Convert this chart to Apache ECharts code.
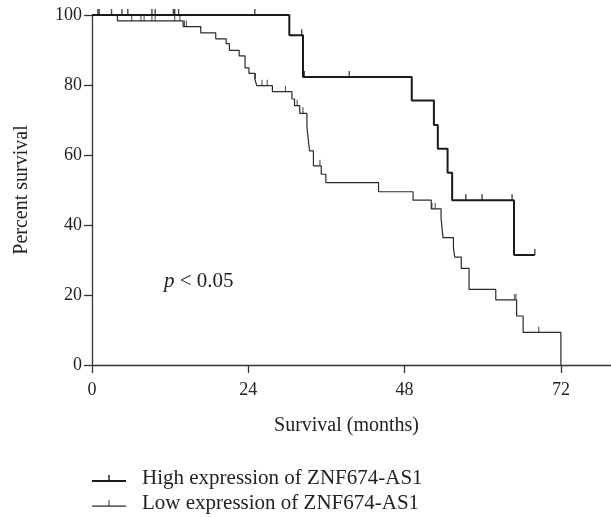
<!DOCTYPE html>
<html>
<head>
<meta charset="utf-8">
<script src="https://cdn.jsdelivr.net/npm/echarts@6/dist/echarts.min.js"></script>
<style>
  html, body { margin: 0; padding: 0; background: #fff; }
  #main { width: 611px; height: 517px; }
</style>
</head>
<body>
<div id="main"></div>
<script>
// Kaplan-Meier steps (months, percent)
var highTime = [0, 30.3, 32.4, 49.1, 52.5, 53.1, 54.6, 55.3, 64.8, 68.0];
var highSurv = [100, 94.2, 82.3, 75.6, 68.6, 61.8, 54.9, 47.1, 31.4, 31.4];
var highCensor = [0.9, 1.1, 3.0, 4.6, 5.5, 9.2, 9.7, 12.5, 12.7, 13.3, 25.0, 32.2, 32.6, 39.5, 57.4, 59.9, 64.5, 68.0];

var lowTime = [0, 3.9, 14.0, 16.7, 19.0, 20.6, 21.1, 22.6, 23.5, 24.1, 25.0, 25.3, 27.7, 30.7, 31.1, 31.9,
  33.0, 33.2, 33.4, 34.0, 35.2, 35.9, 44.0, 49.3, 52.1, 53.6, 53.9, 55.5, 55.7, 56.7, 57.9, 62.0, 65.2, 66.2, 72.0];
var lowSurv = [100, 98.3, 96.7, 94.9, 93.2, 91.8, 89.9, 88.3, 84.9, 83.3, 81.7, 79.8, 78.1, 76.0, 74.1, 71.9,
  68.1, 64.5, 61.2, 56.9, 54.5, 52.1, 49.5, 47.1, 44.6, 41.9, 36.4, 33.3, 30.8, 27.6, 21.6, 18.6, 14.0, 9.3, 0];
var lowCensor = [6.1, 7.5, 8.0, 9.2, 9.7, 12.7, 13.5, 14.2, 14.5, 25.1, 26.1, 26.9, 29.7, 31.5, 32.4, 35.0,
  52.2, 52.7, 64.9, 65.1, 68.6];

var names = ['High expression of ZNF674-AS1', 'Low expression of ZNF674-AS1'];
var font = 'Liberation Serif, Times New Roman, serif';

function pairs(t, s) {
  return t.map(function (v, i) { return [v, s[i]]; });
}
// survival level at a censoring time
function level(t, times, surv) {
  var y = surv[0];
  for (var i = 0; i < times.length; i++) {
    if (times[i] <= t) y = surv[i];
  }
  return y;
}
function censors(c, times, surv) {
  return c.map(function (t) { return [t, level(t, times, surv)]; });
}

var chart = echarts.init(document.getElementById('main'));

function legendBox(top, item) {
  return {
    orient: 'vertical',
    left: 92,
    top: top,
    padding: 0,
    itemWidth: 34,
    itemHeight: 8,
    textStyle: { fontFamily: font, fontSize: 21, color: '#222', padding: [0, 0, 0, 11] },
    data: [item]
  };
}

var option = {
  animation: false,
  grid: { left: 92, top: 15, width: 521, height: 350, outerBoundsMode: 'none', containLabel: false },
  xAxis: {
    type: 'value',
    min: 0,
    max: 80,
    interval: 24,
    name: 'Survival (months)',
    nameLocation: 'middle',
    nameGap: 51,
    nameTextStyle: { fontFamily: font, fontSize: 20, color: '#222', padding: [0, 12, 0, 0] },
    axisLine: { lineStyle: { color: '#333', width: 1.3 } },
    axisTick: { length: 8, lineStyle: { color: '#333', width: 1.3 } },
    axisLabel: { showMaxLabel: false, margin: 16, fontFamily: font, fontSize: 18, color: '#222' },
    splitLine: { show: false }
  },
  yAxis: {
    type: 'value',
    min: 0,
    max: 100,
    interval: 20,
    name: 'Percent survival',
    nameLocation: 'middle',
    nameGap: 60,
    nameTextStyle: { fontFamily: font, fontSize: 20, color: '#222' },
    axisLine: { show: true, lineStyle: { color: '#333', width: 1.3 } },
    axisTick: { show: true, length: 8, lineStyle: { color: '#333', width: 1.3 } },
    axisLabel: { margin: 10, fontFamily: font, fontSize: 18, color: '#222' },
    splitLine: { show: false }
  },
  legend: [
    legendBox(468, { name: names[0], icon: 'path://M0,6 L34,6 L34,8 L0,8 Z M16.3,1 L17.7,1 L17.7,6 L16.3,6 Z', itemStyle: { color: '#1a1a1a' } }),
    legendBox(493, { name: names[1], icon: 'path://M0,6.6 L34,6.6 L34,7.8 L0,7.8 Z M16.5,1.5 L17.5,1.5 L17.5,6.6 L16.5,6.6 Z', itemStyle: { color: '#2a2a2a' } })
  ],
  graphic: [{
    type: 'text',
    left: 164,
    top: 271,
    style: {
      text: '{i|p} < 0.05',
      font: '21px ' + font,
      fill: '#222',
      rich: { i: { fontStyle: 'italic', fontFamily: font, fontSize: 21, fill: '#222' } }
    }
  }],
  series: [
    {
      name: names[0],
      type: 'line',
      step: 'end',
      symbol: 'none',
      data: pairs(highTime, highSurv),
      itemStyle: { color: '#1a1a1a' },
      lineStyle: { color: '#1a1a1a', width: 2 },
      z: 3
    },
    {
      name: names[1],
      type: 'line',
      step: 'end',
      symbol: 'none',
      data: pairs(lowTime, lowSurv),
      itemStyle: { color: '#2a2a2a' },
      lineStyle: { color: '#2a2a2a', width: 1.2 },
      z: 2
    },
    {
      name: names[0],
      type: 'scatter',
      symbol: 'rect',
      symbolSize: [1.4, 6],
      symbolOffset: [0, -3],
      data: censors(highCensor, highTime, highSurv),
      itemStyle: { color: '#1a1a1a' },
      z: 3
    },
    {
      name: names[1],
      type: 'scatter',
      symbol: 'rect',
      symbolSize: [1.1, 6],
      symbolOffset: [0, -3],
      data: censors(lowCensor, lowTime, lowSurv),
      itemStyle: { color: '#2a2a2a' },
      z: 2
    }
  ]
};

chart.setOption(option);
</script>
</body>
</html>
